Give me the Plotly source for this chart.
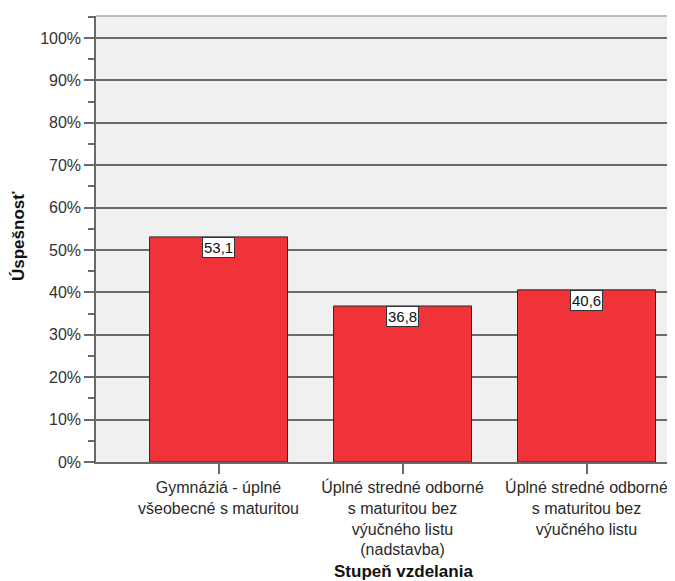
import plotly.graph_objects as go

categories = [
    "Gymnáziá - úplné všeobecné s maturitou",
    "Úplné stredné odborné s maturitou bez výučného listu (nadstavba)",
    "Úplné stredné odborné s maturitou bez výučného listu",
]
tick_labels = [
    "Gymnáziá - úplné<br>všeobecné s maturitou",
    "Úplné stredné odborné<br>s maturitou bez<br>výučného listu<br>(nadstavba)",
    "Úplné stredné odborné<br>s maturitou bez<br>výučného listu",
]
values = [53.1, 36.8, 40.6]
value_labels = ["53,1", "36,8", "40,6"]
y_ticks = [0, 10, 20, 30, 40, 50, 60, 70, 80, 90, 100]
y_tick_labels = [f"{v}%" for v in y_ticks]

FONT = "Liberation Sans, Arial, sans-serif"
GRID = "#6a6a6a"

# page body has an 8px margin; figure is sized/offset to compensate
OFF = 8
W, H = 675 - OFF, 581 - OFF
PL, PT, PB = 96, 16, 462  # target plot-area edges in page pixels
PW, PH = 675 - PL, PB - PT

fig = go.Figure()
fig.add_trace(go.Bar(
    x=categories,
    y=values,
    width=0.75,
    marker=dict(color="#F03339", line=dict(color="#2a2a2a", width=1)),
    hoverinfo="skip",
))

for c, v, t in zip(categories, values, value_labels):
    fig.add_annotation(
        x=c, y=v, text=t, showarrow=False,
        xanchor="center", yanchor="top",
        bgcolor="white", bordercolor="#333333", borderwidth=1, borderpad=1,
        font=dict(family=FONT, size=15, color="#111111"),
    )

fig.update_layout(
    width=W, height=H,
    margin=dict(l=PL - OFF, r=0, t=PT - OFF, b=H + OFF - PB, pad=0),
    paper_bgcolor="white",
    plot_bgcolor="#F0F0F0",
    showlegend=False,
    font=dict(family=FONT, color="#333333"),
    xaxis=dict(
        type="category",
        range=[-0.666, 2.481],
        tickvals=categories,
        ticktext=tick_labels,
        ticks="outside", ticklen=10, tickwidth=1.5, tickcolor=GRID,
        showgrid=False, zeroline=False,
        showline=True, linecolor=GRID, linewidth=1.5,
        tickfont=dict(family=FONT, size=16, color="#2a2a2a"),
        fixedrange=True,
    ),
    yaxis=dict(
        range=[0, 105.2],
        tickvals=y_ticks,
        ticktext=y_tick_labels,
        ticks="outside", ticklen=10, tickwidth=1.5, tickcolor=GRID,
        minor=dict(dtick=5, ticks="outside", ticklen=6, tickwidth=1.5, tickcolor=GRID, showgrid=False),
        showgrid=True, gridcolor=GRID, gridwidth=1.5,
        zeroline=False,
        showline=True, linecolor=GRID, linewidth=1.5,
        tickfont=dict(family=FONT, size=16, color="#333333"),
        fixedrange=True,
    ),
    shapes=[dict(type="line", xref="paper", yref="paper", x0=0, x1=1, y0=1, y1=1,
                 line=dict(color="#aaaaaa", width=1.5))],
)

fig.add_annotation(
    text="<b>Stupeň vzdelania</b>", xref="paper", yref="paper",
    x=(403 - PL) / PW, y=-(571 - PB) / PH, xanchor="center", yanchor="middle",
    showarrow=False, font=dict(family=FONT, size=17, color="#111111"),
)
fig.add_annotation(
    text="<b>Úspešnosť</b>", xref="paper", yref="paper",
    x=-(PL - 18) / PW, y=(PB - 236) / PH, xanchor="center", yanchor="middle",
    textangle=-90, showarrow=False, font=dict(family=FONT, size=17, color="#111111"),
)

fig.write_html("out.html")
